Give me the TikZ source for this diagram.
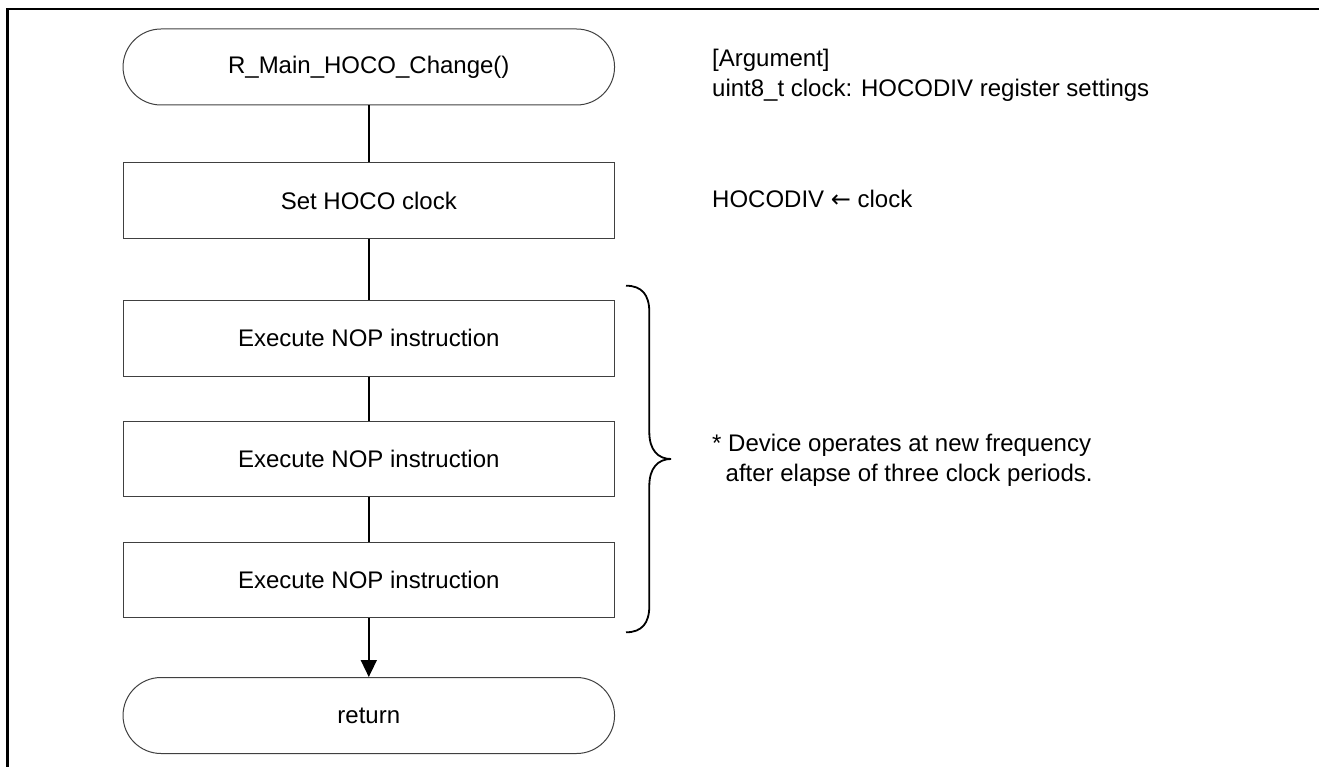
\documentclass[tikz,border=0pt]{standalone}
\usepackage{fontspec}
\setmainfont{Liberation Sans}
\newfontfamily\arrowfont{DejaVu Sans}
\usetikzlibrary{arrows.meta}
\begin{document}
\begin{tikzpicture}[x=1pt,y=-1pt,
  every node/.style={font=\fontsize{24}{29.5}\selectfont},
  term/.style={draw=black!75, line width=1pt, rounded corners=38pt, minimum width=491.5pt, minimum height=76pt, inner sep=0pt},
  proc/.style={draw=black!75, line width=1pt, minimum width=491.5pt, minimum height=75.5pt, inner sep=0pt},
  conn/.style={line width=1.6pt},
  note/.style={anchor=base west, inner sep=0pt},
  frame/.style={line width=2.5pt},
  bracestyle/.style={line width=1.8pt}]
\useasboundingbox (0,0) rectangle (1319,767);
\draw[frame] (1319,9) -- (7.5,9) -- (7.5,767);

\node[term] (start) at (368.8,67) {R\_Main\_HOCO\_Change()};
\node[proc] (set) at (368.8,200.5) {Set HOCO clock};
\node[proc] (nop1) at (368.8,338.4) {Execute NOP instruction};
\node[proc] (nop2) at (368.8,459) {Execute NOP instruction};
\node[proc] (nop3) at (368.8,579.8) {Execute NOP instruction};
\node[term] (ret) at (368.8,715.5) {return};

\draw[conn] (start) -- (set);
\draw[conn] (set) -- (nop1);
\draw[conn] (nop1) -- (nop2);
\draw[conn] (nop2) -- (nop3);
\draw[conn,-{Triangle[length=17pt,width=16pt]}] (nop3) -- (ret);

\node[note] (arg1) at (712,67) {[Argument]};
\node[note] (arg2) at (712,96.5) {uint8\_t clock: HOCODIV register settings};
\node[note] (hoco) at (712,207.6) {HOCODIV {\arrowfont ←} clock};
\node[note] (dev1) at (712,451.6) {* Device operates at new frequency};
\node[note] (dev2) at (712,481) {\hspace*{13.5pt}after elapse of three clock periods.};

\draw[bracestyle] (626,285.7) .. controls (642,285.7) and (649.3,295) .. (649.3,312)
  -- (649.3,432) .. controls (649.3,450) and (658,459) .. (671,459)
  .. controls (658,459) and (649.3,468) .. (649.3,486)
  -- (649.3,606) .. controls (649.3,623) and (642,632.3) .. (626,632.3);
\end{tikzpicture}
\end{document}
